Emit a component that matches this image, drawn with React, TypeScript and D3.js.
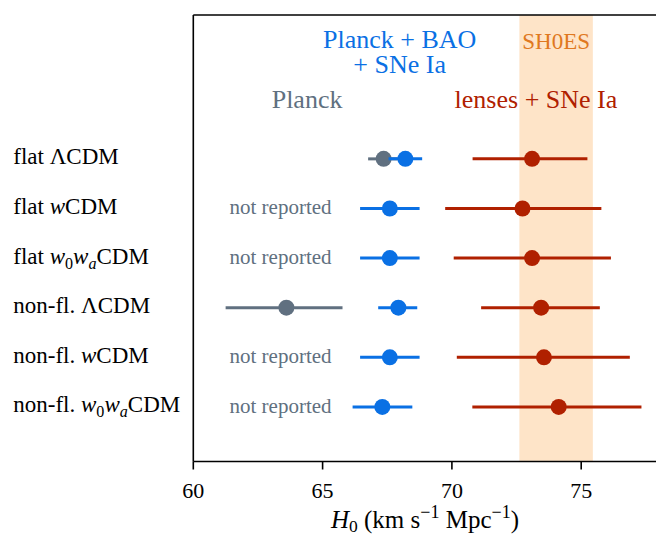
import * as d3 from "d3";

// row labels (segments: text, italic, sub)
type Seg = { t: string; i?: boolean; sub?: boolean };
const modelLabels: Seg[][] = [
  [{ t: "flat ΛCDM" }],
  [{ t: "flat " }, { t: "w", i: true }, { t: "CDM" }],
  [{ t: "flat " }, { t: "w", i: true }, { t: "0", sub: true }, { t: "w", i: true }, { t: "a", i: true, sub: true }, { t: "CDM" }],
  [{ t: "non-fl. ΛCDM" }],
  [{ t: "non-fl. " }, { t: "w", i: true }, { t: "CDM" }],
  [{ t: "non-fl. " }, { t: "w", i: true }, { t: "0", sub: true }, { t: "w", i: true }, { t: "a", i: true, sub: true }, { t: "CDM" }],
];

// Planck alone (NaN = not reported)
const planckH0 = [67.36, NaN, NaN, 63.6, NaN, NaN];
const planckLo = [0.6, NaN, NaN, 2.35, NaN, NaN];
const planckHi = [0.54, NaN, NaN, 2.17, NaN, NaN];

// Planck + BAO + SNe Ia
const baoH0 = [68.2, 67.6, 67.6, 67.93, 67.6, 67.31];
const baoLo = [0.65, 1.15, 1.15, 0.78, 1.15, 1.15];
const baoHi = [0.65, 1.15, 1.15, 0.73, 1.15, 1.16];

// lenses + SNe Ia
const lensH0 = [73.1, 72.73, 73.1, 73.45, 73.56, 74.13];
const lensLo = [2.3, 2.99, 3.03, 2.32, 3.37, 3.34];
const lensHi = [2.14, 3.05, 3.05, 2.27, 3.32, 3.2];

// SH0ES band
const sh0esH0 = 74.03;
const sh0esErr = 1.42;

const xTicks = [60, 65, 70, 75];

const GRAY = "#607080";
const BLUE = "#0a70e4";
const RED = "#b02000";
const BAND = "#fee4c8";
const ORANGE = "#e07820";

const FONT = "'Liberation Serif', 'Times New Roman', serif";

function App() {
  const W = 656, H = 536;
  const left = 193.3, top = 15, bottom = 461.5;

  const x = d3.scaleLinear().domain([60, 78]).range([left, left + 18 * 25.86]);
  const y = d3.scaleLinear().domain([-2.9, 6.1]).range([top, bottom]);

  const errBar = (v: number, lo: number, hi: number, i: number, color: string, key: string) => (
    <g key={key}>
      <line x1={x(v - lo)} x2={x(v + hi)} y1={y(i)} y2={y(i)} stroke={color} strokeWidth={3} />
      <circle cx={x(v)} cy={y(i)} r={8} fill={color} />
    </g>
  );

  const renderSegs = (segs: Seg[]) =>
    segs.map((s, k) => (
      <tspan
        key={k}
        fontStyle={s.i ? "italic" : "normal"}
        fontSize={s.sub ? "70%" : undefined}
        dy={s.sub ? 5 : k > 0 && segs[k - 1].sub ? -5 : 0}
      >
        {s.t}
      </tspan>
    ));

  return (
    <svg width={W} height={H} style={{ position: "absolute", left: 0, top: 0 }} fontFamily={FONT}>
      <rect x={0} y={0} width={W} height={H} fill="white" />
      {/* SH0ES band */}
      <rect x={x(sh0esH0 - sh0esErr)} y={top} width={x(sh0esH0 + sh0esErr) - x(sh0esH0 - sh0esErr)} height={bottom - top} fill={BAND} />

      {/* annotations */}
      <text textAnchor="middle" fontSize={26} fill={BLUE}>
        <tspan x={x(67.98)} y={48.3}>Planck + BAO</tspan>
        <tspan x={x(67.98)} y={73}>+ SNe Ia</tspan>
      </text>
      <text x={x(74.03)} y={49.3} textAnchor="middle" fontSize={23} fill={ORANGE}>SH0ES</text>
      <text x={x(64.4)} y={108.3} textAnchor="middle" fontSize={26} fill={GRAY}>Planck</text>
      <text x={x(73.25)} y={108.3} textAnchor="middle" fontSize={26} fill={RED}>lenses + SNe Ia</text>

      {/* error bars */}
      {planckH0.map((v, i) =>
        isNaN(v) ? (
          <text key={"nr" + i} x={x(61.4)} y={y(i) + 6} fontSize={21} fill={GRAY}>not reported</text>
        ) : (
          errBar(v, planckLo[i], planckHi[i], i, GRAY, "p" + i)
        )
      )}
      {baoH0.map((v, i) => errBar(v, baoLo[i], baoHi[i], i, BLUE, "b" + i))}
      {lensH0.map((v, i) => errBar(v, lensLo[i], lensHi[i], i, RED, "l" + i))}

      {/* row labels */}
      {modelLabels.map((segs, i) => (
        <text key={"m" + i} x={13.3} y={y(i) + 5.5} fontSize={23} fill="black">
          {renderSegs(segs)}
        </text>
      ))}

      {/* frame */}
      <line x1={left} x2={W} y1={top} y2={top} stroke="black" strokeWidth={1.6} />
      <line x1={left} x2={W} y1={bottom} y2={bottom} stroke="black" strokeWidth={1.6} />
      <line x1={left} x2={left} y1={top} y2={bottom} stroke="black" strokeWidth={1.6} />

      {/* x ticks */}
      {xTicks.map((t) => (
        <g key={"t" + t}>
          <line x1={x(t)} x2={x(t)} y1={bottom} y2={bottom + 8} stroke="black" strokeWidth={1.6} />
          <text x={x(t)} y={498.3} textAnchor="middle" fontSize={22} fill="black">{t}</text>
        </g>
      ))}

      {/* x label */}
      <text x={425} y={528} textAnchor="middle" fontSize={25} fill="black">
        <tspan fontStyle="italic">H</tspan>
        <tspan fontSize="70%" dy={4}>0</tspan>
        <tspan dy={-4}> (km s</tspan>
        <tspan fontSize="72%" dy={-10}>−1</tspan>
        <tspan dy={10}> Mpc</tspan>
        <tspan fontSize="72%" dy={-10}>−1</tspan>
        <tspan dy={10}>)</tspan>
      </text>
    </svg>
  );
}

export default App;
